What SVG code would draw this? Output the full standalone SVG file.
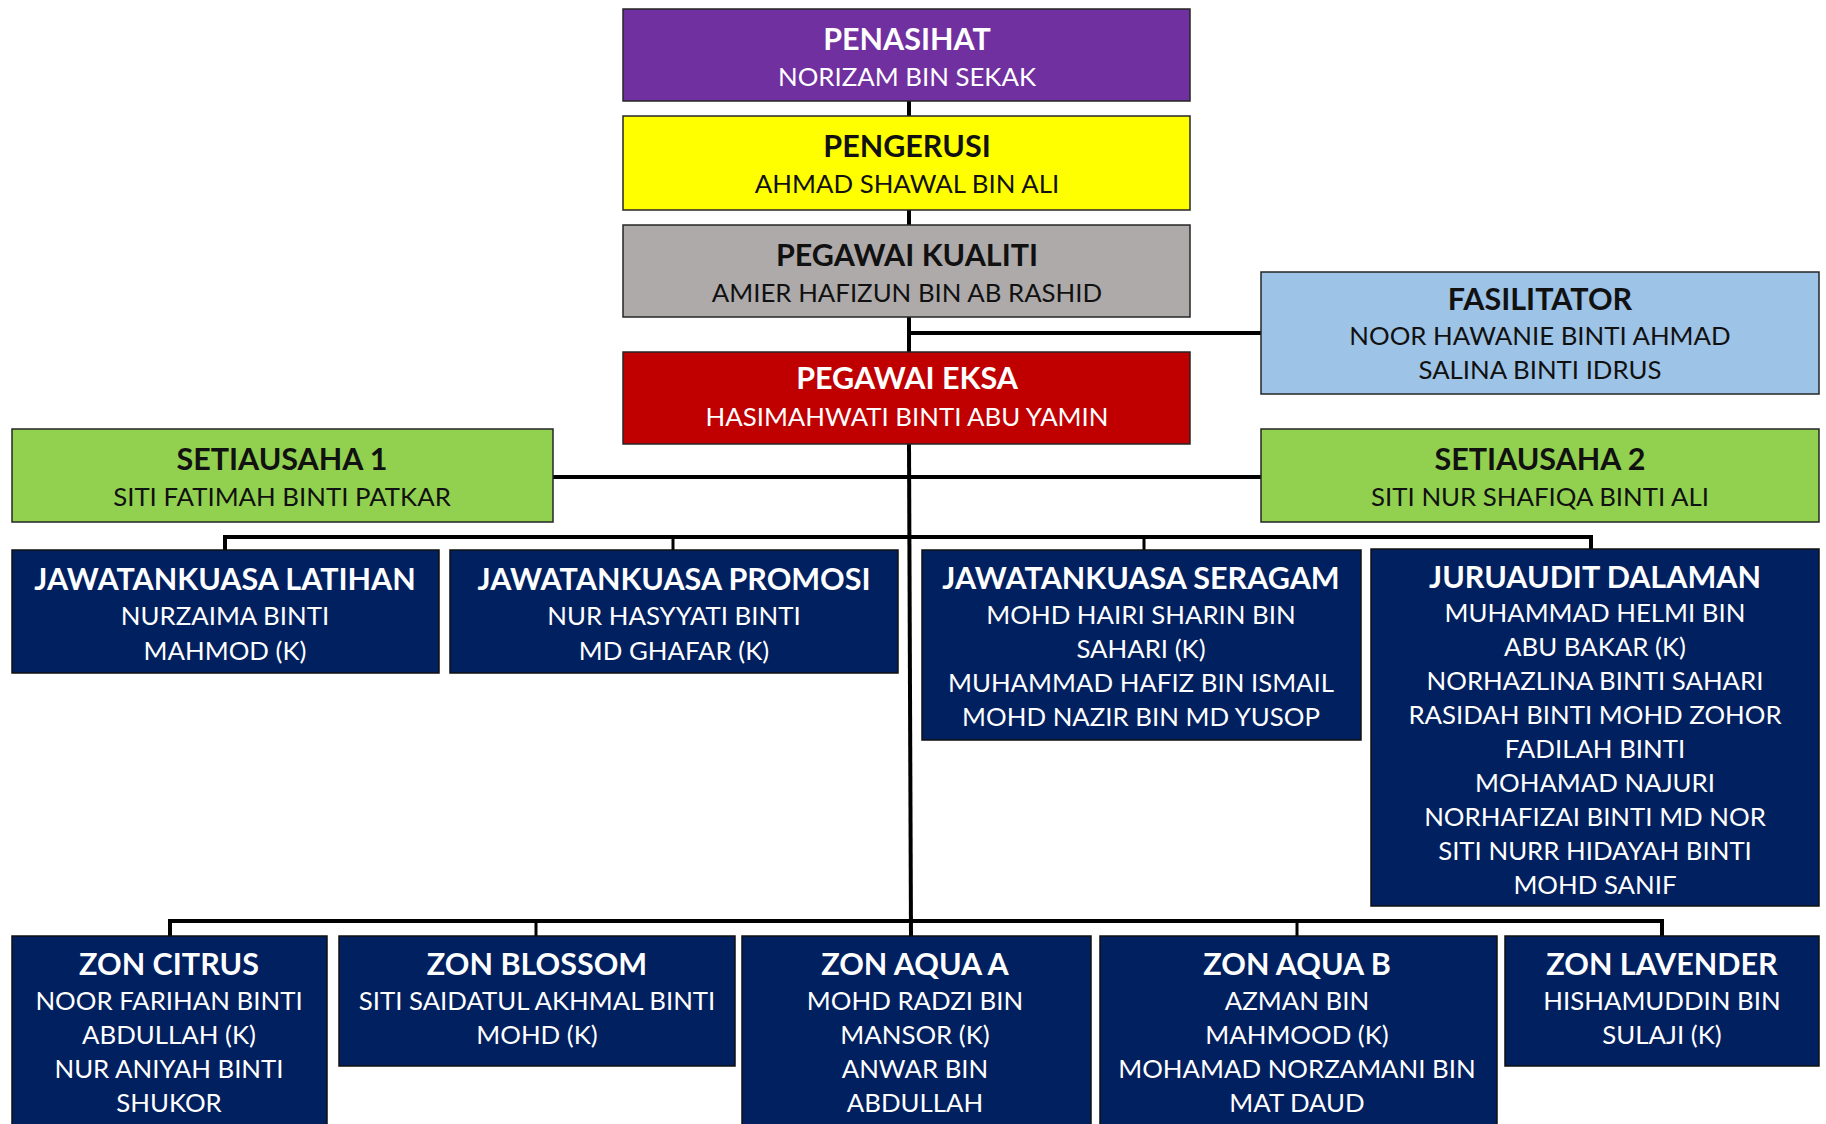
<svg xmlns="http://www.w3.org/2000/svg" width="1826" height="1124" viewBox="0 0 1826 1124">
<style>
.box{stroke:#262626;stroke-width:1.5}
.purple{fill:#7030A0}.yellow{fill:#FFFF00}.gray{fill:#AEAAAA}.blue{fill:#9DC3E6}.red{fill:#C00000}.green{fill:#92D050}.navy{fill:#002060;stroke:#111}
text{font-family:Lato,"Open Sans","Liberation Sans",sans-serif;text-anchor:middle}
.t{font-size:30.5px;font-weight:700}
.s{font-size:25.8px}
.w{fill:#FFFFFF}.k{fill:#111111}
.ln{stroke:#000;stroke-width:4;fill:none}
.dr{stroke:#000;stroke-width:3;fill:none}
</style>
<g id="connectors">
<line class="ln" x1="909" y1="101" x2="909" y2="116"/>
<line class="ln" x1="909" y1="210" x2="909" y2="225"/>
<line class="ln" x1="909" y1="317" x2="909" y2="352"/>
<line class="ln" x1="909" y1="333" x2="1261" y2="333"/>
<line class="ln" x1="909" y1="444" x2="911" y2="936"/>
<line class="ln" x1="553" y1="477" x2="1261" y2="477"/>
<polyline class="ln" points="225,550 225,537 1591,537 1591,549"/>
<line class="dr" x1="673" y1="537" x2="673" y2="550"/>
<line class="dr" x1="1144" y1="537" x2="1144" y2="550"/>
<polyline class="ln" points="170,936 170,921 1662,921 1662,936"/>
<line class="dr" x1="536" y1="921" x2="536" y2="936"/>
<line class="dr" x1="1297" y1="921" x2="1297" y2="936"/>
</g>
<g id="penasihat">
<rect class="box purple" x="623" y="9" width="567" height="92"/>
<text class="t w" x="907" y="50">PENASIHAT</text>
<text class="s w" x="907" y="86">NORIZAM BIN SEKAK</text>
</g>
<g id="pengerusi">
<rect class="box yellow" x="623" y="116" width="567" height="94"/>
<text class="t k" x="907" y="157">PENGERUSI</text>
<text class="s k" x="907" y="193">AHMAD SHAWAL BIN ALI</text>
</g>
<g id="pegawai-kualiti">
<rect class="box gray" x="623" y="225" width="567" height="92"/>
<text class="t k" x="907" y="266">PEGAWAI KUALITI</text>
<text class="s k" x="907" y="302">AMIER HAFIZUN BIN AB RASHID</text>
</g>
<g id="fasilitator">
<rect class="box blue" x="1261" y="272" width="558" height="122"/>
<text class="t k" x="1540" y="310">FASILITATOR</text>
<text class="s k" x="1540" y="345">NOOR HAWANIE BINTI AHMAD</text>
<text class="s k" x="1540" y="379">SALINA BINTI IDRUS</text>
</g>
<g id="pegawai-eksa">
<rect class="box red" x="623" y="352" width="567" height="92"/>
<text class="t w" x="907" y="389">PEGAWAI EKSA</text>
<text class="s w" x="907" y="426">HASIMAHWATI BINTI ABU YAMIN</text>
</g>
<g id="setiausaha-1">
<rect class="box green" x="12" y="429" width="541" height="93"/>
<text class="t k" x="282" y="470">SETIAUSAHA 1</text>
<text class="s k" x="282" y="506">SITI FATIMAH BINTI PATKAR</text>
</g>
<g id="setiausaha-2">
<rect class="box green" x="1261" y="429" width="558" height="93"/>
<text class="t k" x="1540" y="470">SETIAUSAHA 2</text>
<text class="s k" x="1540" y="506">SITI NUR SHAFIQA BINTI ALI</text>
</g>
<g id="jk-latihan">
<rect class="box navy" x="12" y="550" width="427" height="123"/>
<text class="t w" x="225" y="590">JAWATANKUASA LATIHAN</text>
<text class="s w" x="225" y="625">NURZAIMA BINTI</text>
<text class="s w" x="225" y="660">MAHMOD (K)</text>
</g>
<g id="jk-promosi">
<rect class="box navy" x="450" y="550" width="448" height="123"/>
<text class="t w" x="674" y="590">JAWATANKUASA PROMOSI</text>
<text class="s w" x="674" y="625">NUR HASYYATI BINTI</text>
<text class="s w" x="674" y="660">MD GHAFAR (K)</text>
</g>
<g id="jk-seragam">
<rect class="box navy" x="922" y="550" width="439" height="190"/>
<text class="t w" x="1141" y="589">JAWATANKUASA SERAGAM</text>
<text class="s w" x="1141" y="624">MOHD HAIRI SHARIN BIN</text>
<text class="s w" x="1141" y="658">SAHARI (K)</text>
<text class="s w" x="1141" y="692">MUHAMMAD HAFIZ BIN ISMAIL</text>
<text class="s w" x="1141" y="726">MOHD NAZIR BIN MD YUSOP</text>
</g>
<g id="juruaudit-dalaman">
<rect class="box navy" x="1371" y="549" width="448" height="357"/>
<text class="t w" x="1595" y="588">JURUAUDIT DALAMAN</text>
<text class="s w" x="1595" y="622">MUHAMMAD HELMI BIN</text>
<text class="s w" x="1595" y="656">ABU BAKAR (K)</text>
<text class="s w" x="1595" y="690">NORHAZLINA BINTI SAHARI</text>
<text class="s w" x="1595" y="724">RASIDAH BINTI MOHD ZOHOR</text>
<text class="s w" x="1595" y="758">FADILAH BINTI</text>
<text class="s w" x="1595" y="792">MOHAMAD NAJURI</text>
<text class="s w" x="1595" y="826">NORHAFIZAI BINTI MD NOR</text>
<text class="s w" x="1595" y="860">SITI NURR HIDAYAH BINTI</text>
<text class="s w" x="1595" y="894">MOHD SANIF</text>
</g>
<g id="zon-citrus">
<rect class="box navy" x="12" y="936" width="315" height="200"/>
<text class="t w" x="169" y="975">ZON CITRUS</text>
<text class="s w" x="169" y="1010">NOOR FARIHAN BINTI</text>
<text class="s w" x="169" y="1044">ABDULLAH (K)</text>
<text class="s w" x="169" y="1078">NUR ANIYAH BINTI</text>
<text class="s w" x="169" y="1112">SHUKOR</text>
</g>
<g id="zon-blossom">
<rect class="box navy" x="339" y="936" width="396" height="130"/>
<text class="t w" x="537" y="975">ZON BLOSSOM</text>
<text class="s w" x="537" y="1010">SITI SAIDATUL AKHMAL BINTI</text>
<text class="s w" x="537" y="1044">MOHD (K)</text>
</g>
<g id="zon-aqua-a">
<rect class="box navy" x="742" y="936" width="349" height="200"/>
<text class="t w" x="915" y="975">ZON AQUA A</text>
<text class="s w" x="915" y="1010">MOHD RADZI BIN</text>
<text class="s w" x="915" y="1044">MANSOR (K)</text>
<text class="s w" x="915" y="1078">ANWAR BIN</text>
<text class="s w" x="915" y="1112">ABDULLAH</text>
</g>
<g id="zon-aqua-b">
<rect class="box navy" x="1100" y="936" width="397" height="200"/>
<text class="t w" x="1297" y="975">ZON AQUA B</text>
<text class="s w" x="1297" y="1010">AZMAN BIN</text>
<text class="s w" x="1297" y="1044">MAHMOOD (K)</text>
<text class="s w" x="1297" y="1078">MOHAMAD NORZAMANI BIN</text>
<text class="s w" x="1297" y="1112">MAT DAUD</text>
</g>
<g id="zon-lavender">
<rect class="box navy" x="1505" y="936" width="314" height="130"/>
<text class="t w" x="1662" y="975">ZON LAVENDER</text>
<text class="s w" x="1662" y="1010">HISHAMUDDIN BIN</text>
<text class="s w" x="1662" y="1044">SULAJI (K)</text>
</g>
</svg>
